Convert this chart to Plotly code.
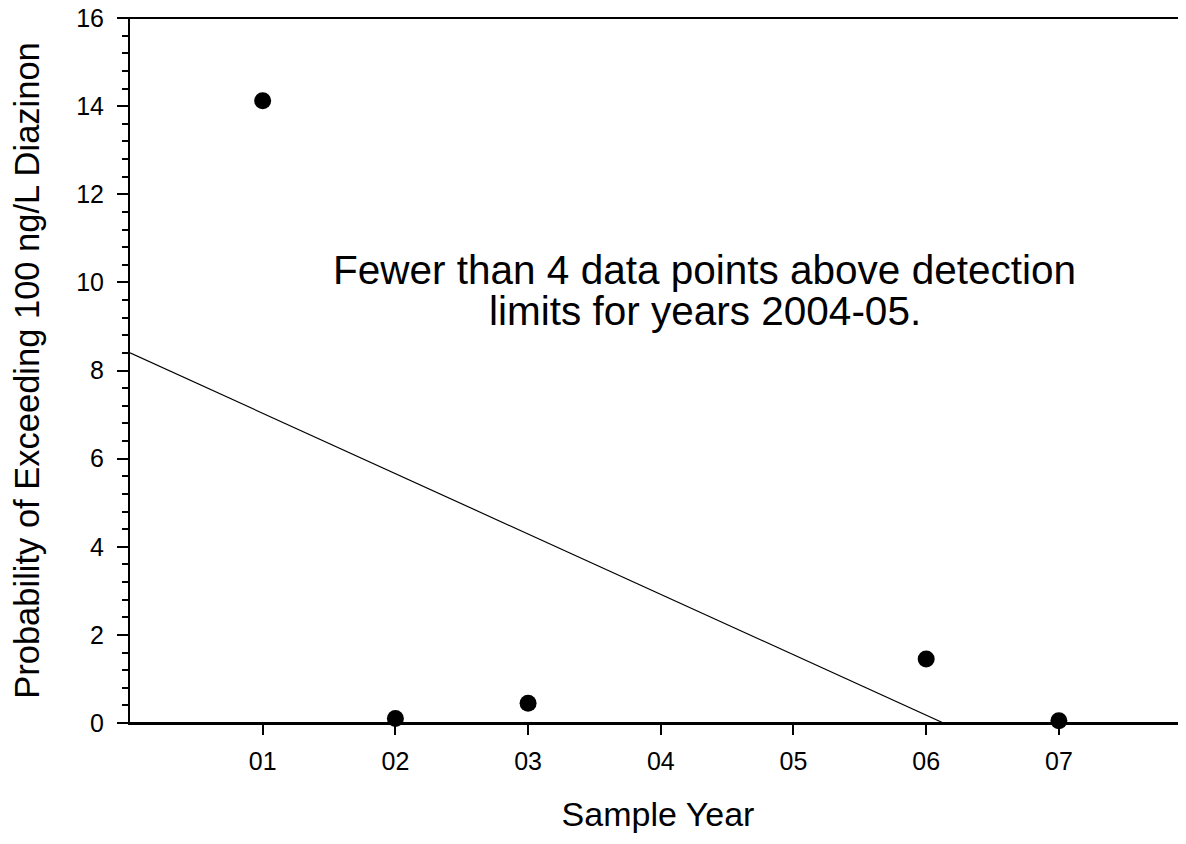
import plotly.graph_objects as go

years = [1, 2, 3, 6, 7]
probability = [14.12, 0.1, 0.45, 1.45, 0.05]
trend_x = [0, 6.13]
trend_y = [8.4, 0]
tick_vals = [1, 2, 3, 4, 5, 6, 7]
tick_text = ["01", "02", "03", "04", "05", "06", "07"]
y_tick_vals = [0, 2, 4, 6, 8, 10, 12, 14, 16]
note_lines = ["Fewer than 4 data points above detection", "limits for years 2004-05."]
note_x = 4.33
note_y = [10.28, 9.35]

FONT = "Liberation Sans, Arial, sans-serif"

fig = go.Figure()
fig.add_trace(go.Scatter(x=trend_x, y=trend_y, mode="lines",
                         line=dict(color="black", width=1.2), showlegend=False))
fig.add_trace(go.Scatter(x=years, y=probability, mode="markers",
                         marker=dict(color="black", size=17), cliponaxis=False,
                         showlegend=False))

for txt, ny in zip(note_lines, note_y):
    fig.add_annotation(x=note_x, y=ny, text=txt, showarrow=False, yanchor="middle",
                       borderpad=0,
                       font=dict(family=FONT, size=40.5, color="black"), align="center")

# horizontal frame lines extend slightly past the y axis
for yy in (0, 1):
    fig.add_shape(type="line", xref="paper", yref="paper", x0=-0.0105, x1=1, y0=yy, y1=yy,
                  line=dict(color="black", width=2))

fig.update_layout(
    width=1178, height=836,
    margin=dict(l=122, r=0, t=10, b=121, autoexpand=False),
    plot_bgcolor="white", paper_bgcolor="white",
    font=dict(family=FONT, color="black", size=25),
    xaxis=dict(range=[0, 7.958], tickvals=tick_vals, ticktext=tick_text, automargin=False,
               showgrid=False, zeroline=False, showline=True, linecolor="black", linewidth=2,
               ticks="outside", ticklen=10, tickwidth=2, tickcolor="black",
               tickfont=dict(size=25), ticklabelstandoff=5,
               title=dict(text="Sample Year", font=dict(size=34), standoff=28)),
    yaxis=dict(range=[0, 16], tickvals=y_tick_vals, ticklabeloverflow="allow", automargin=False,
               showgrid=False, zeroline=False, showline=True, linecolor="black", linewidth=2,
               ticks="outside", ticklen=11, tickwidth=2, tickcolor="black",
               tickfont=dict(size=25), ticklabelstandoff=8,
               minor=dict(dtick=0.4, tick0=0, ticks="outside", ticklen=6, tickwidth=1.5,
                          tickcolor="black", showgrid=False),
               title=dict(text="Probability of Exceeding 100 ng/L Diazinon",
                          font=dict(size=34.5), standoff=38)),
)

fig.write_html("out.html")
